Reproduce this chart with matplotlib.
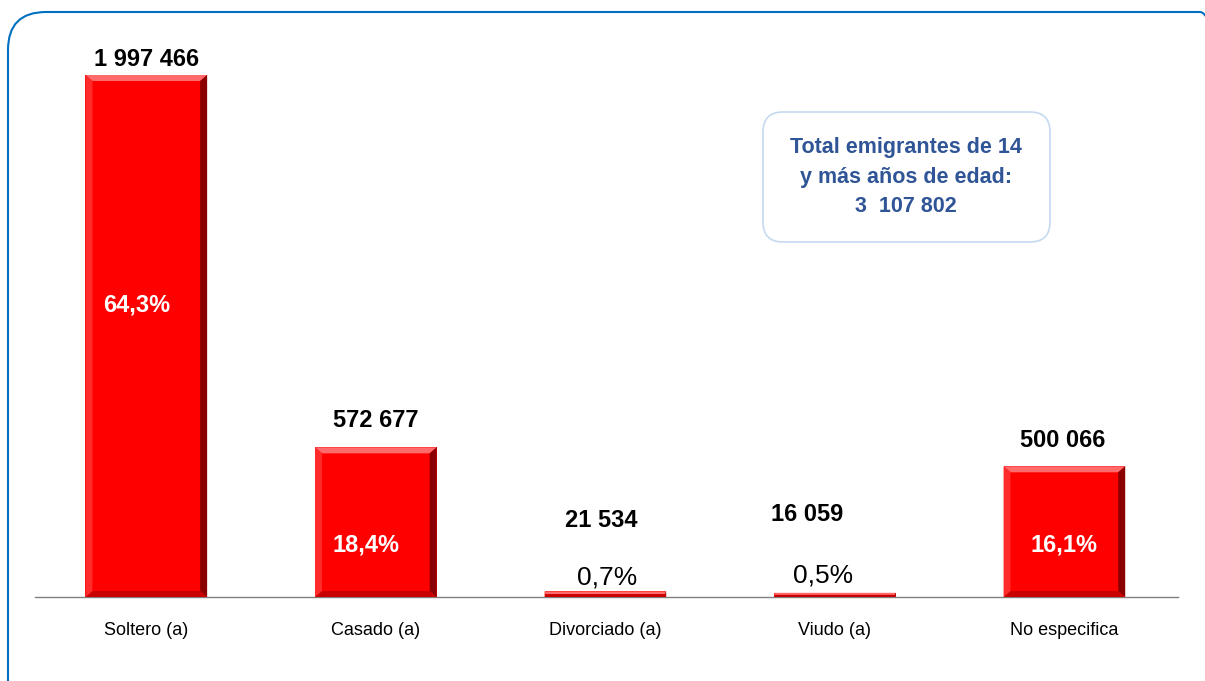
import numpy as np
import matplotlib
matplotlib.use("Agg")
import matplotlib.pyplot as plt
from matplotlib.patches import FancyBboxPatch, Polygon
from matplotlib.transforms import IdentityTransform

plt.rcParams['font.family'] = ['Liberation Sans Narrow', 'Liberation Sans', 'DejaVu Sans']

categories = ['Soltero (a)', 'Casado (a)', 'Divorciado (a)', 'Viudo (a)', 'No especifica']
values = [1997466, 572677, 21534, 16059, 500066]
value_labels = ['1 997 466', '572 677', '21 534', '16 059', '500 066']
pct_labels = ['64,3%', '18,4%', '0,7%', '0,5%', '16,1%']
total_text = 'Total emigrantes de 14\ny más años de edad:\n3  107 802'

# label offsets in pixels (value above bar top, percent above baseline)
val_off = [(0, 15), (0, 27), (-4, 71), (-28, 78), (-2, 26)]
pct_off = [(-10, 292), (-10, 52), (2, 19), (-12, 21), (0, 52)]

W, H, DPI = 1205, 681, 100
fig = plt.figure(figsize=(W / DPI, H / DPI), dpi=DPI)
fig.patch.set_facecolor('white')

# outer rounded frame
fig.patches.append(FancyBboxPatch((8, -40), 1230, 709, boxstyle='round,pad=0,rounding_size=38',
                                  transform=IdentityTransform(), fc='none', ec='#0070C0', lw=1.5))

base_px, top_px = 597, 75
ax = fig.add_axes([35 / W, (H - base_px) / H, (1178 - 35) / W, (base_px - 40) / H])
px_per_val = (base_px - top_px) / values[0]
ax.set_ylim(0, (base_px - 40) / px_per_val)
ax.set_xlim(-0.485, 4.495)

x = np.arange(len(categories))
bw = 0.53
bars = ax.bar(x, values, width=bw, color='#FF0000', edgecolor='none', zorder=2)

# bevel effect
bx = 7 / 229.5
for b in bars:
    x0, w, h = b.get_x(), b.get_width(), b.get_height()
    by = min(6 / px_per_val, h / 2)
    bxx = bx if h * px_per_val > 12 else 0.004
    x1 = x0 + w
    ax.add_patch(Polygon([(x0, h), (x1, h), (x1 - bxx, h - by), (x0 + bxx, h - by)],
                         fc='#FF6A6A', ec='none', zorder=3))
    ax.add_patch(Polygon([(x1, h), (x1, 0), (x1 - bxx, by), (x1 - bxx, h - by)],
                         fc='#8A0000', ec='none', zorder=3))
    ax.add_patch(Polygon([(x0, 0), (x1, 0), (x1 - bxx, by), (x0 + bxx, by)],
                         fc='#C80000', ec='none', zorder=3))
    ax.add_patch(Polygon([(x0, 0), (x0, h), (x0 + bxx, h - by), (x0 + bxx, by)],
                         fc='#FF2A2A', ec='none', zorder=3))

for i, v in enumerate(values):
    ax.annotate(value_labels[i], (x[i], v), xytext=val_off[i], textcoords='offset pixels',
                ha='center', va='center', fontsize=17, fontweight='bold', color='black',
                annotation_clip=False)
    small = v * px_per_val < 20
    ax.annotate(pct_labels[i], (x[i], 0), xytext=pct_off[i], textcoords='offset pixels',
                ha='center', va='center', fontsize=19 if small else 17,
                fontweight='normal' if small else 'bold',
                color='black' if small else 'white', zorder=5)

ax.set_xticks(x)
ax.set_xticklabels(categories, fontsize=13)
ax.tick_params(axis='x', length=0, pad=18)
ax.set_yticks([])
for s in ['top', 'right', 'left']:
    ax.spines[s].set_visible(False)
ax.spines['bottom'].set_color('#808080')
ax.spines['bottom'].set_linewidth(1)
ax.patch.set_alpha(0)

# total box
fig.patches.append(FancyBboxPatch((763, H - 242), 287, 130, boxstyle='round,pad=0,rounding_size=20',
                                  transform=IdentityTransform(), fc='white', ec='#C5D9F1', lw=1.2))
fig.text(906 / W, (H - 177) / H, total_text, ha='center', va='center', fontsize=15.5,
         fontweight='bold', color='#2F5597', linespacing=1.55)

fig.savefig('out.png', dpi=DPI)
